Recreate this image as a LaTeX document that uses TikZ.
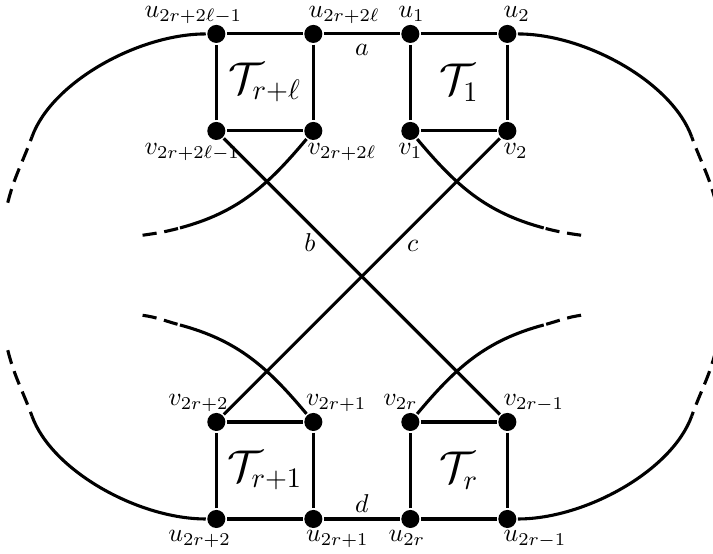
\documentclass[tikz,border=0pt]{standalone}
\usepackage{amsmath}
\tikzset{vtx/.style={circle,fill,inner sep=0pt,minimum size=7pt},
 lab/.style={anchor=base west,inner sep=0pt},
 tail/.style={dash pattern=on 5.5pt off 3pt}}

\begin{document}
\begin{tikzpicture}[x=.661cm,y=.661cm,very thick]
\useasboundingbox (-7.46,-5.72) rectangle (7.24,5.70);
% vertices of the four squares
\foreach \n/\x/\y in {ua/-3/5,ub/-1/5,uc/1/5,ud/3/5,va/-3/3,vb/-1/3,vc/1/3,vd/3/3,
 ve/-3/-3,vf/-1/-3,vg/1/-3,vh/3/-3,ue/-3/-5,uf/-1/-5,ug/1/-5,uh/3/-5}
 {\node[vtx] (\n) at (\x,\y) {};}
% free ends of the open curves
\foreach \n/\x/\y in {oa/-6.8/2.88,oa2/-7.3/1.52,od/6.8/2.88,od2/7.3/1.52,
 oe/-6.8/-2.88,oe2/-7.3/-1.52,oh/6.8/-2.88,oh2/7.3/-1.52,
 ib/-3.75/1/,ib2/-4.52/.85,ic/3.75/1,ic2/4.52/.85,
 if/-3.75/-1,if2/-4.52/-.8,ig/3.75/-1,ig2/4.52/-.8}
 {\coordinate (\n) at (\x,\y);}
% squares
\draw (ua)--(ub)--(vb)--(va)--(ua);
\draw (uc)--(ud)--(vd)--(vc)--(uc);
\draw (ve)--(vf)--(uf)--(ue)--(ve);
\draw (vg)--(vh)--(uh)--(ug)--(vg);
\draw (ub)-- node[below] {$a$} (uc);
\draw (uf)-- node[above,inner sep=2pt] {$d$} (ug);
\draw (va)--(vh);
\draw (vd)--(ve);
% outer curves
\draw (ua) .. controls +(-1.6,0) and +(.41,1.13) .. (oa);
\draw (ud) .. controls +(1.6,0) and +(-.41,1.13) .. (od);
\draw (ue) .. controls +(-1.6,0) and +(.41,-1.13) .. (oe);
\draw (uh) .. controls +(1.6,0) and +(-.41,-1.13) .. (oh);
\draw[tail] (oa2) to[out=76,in=250] (oa);
\draw[tail] (od2) to[out=104,in=-70] (od);
\draw[tail] (oe2) to[out=-76,in=110] (oe);
\draw[tail] (oh2) to[out=-104,in=70] (oh);
% inner curves
\draw (vb) to[out=230,in=15] (ib);
\draw (vc) to[out=-50,in=165] (ic);
\draw (vf) to[out=130,in=-15] (if);
\draw (vg) to[out=50,in=195] (ig);
\draw[tail] (ib2) to[out=8,in=195] (ib);
\draw[tail] (ic2) to[out=172,in=-15] (ic);
\draw[tail] (if2) to[out=-8,in=165] (if);
\draw[tail] (ig2) to[out=188,in=15] (ig);
% labels
\tikzset{every node/.append style={}}
\node[font=\fontsize{16}{19}\selectfont] (ta) at (-2,4) {$\mathcal{T}_{r+\ell}$};
\node[font=\fontsize{16}{19}\selectfont] (tb) at (2,4) {$\mathcal{T}_{1}$};
\node[font=\fontsize{16}{19}\selectfont] (tc) at (-2,-4) {$\mathcal{T}_{r+1}$};
\node[font=\fontsize{16}{19}\selectfont] (td) at (2,-4) {$\mathcal{T}_{r}$};
\node (lb) at (-1.07,.69) {$b$};
\node (lc) at (1.05,.63) {$c$};
\node[lab] (la) at (-4.51,5.33) {$u_{2r+2\ell-1}$};
\node[lab] (lub) at (-1.13,5.33) {$u_{2r+2\ell}$};
\node[lab] (luc) at (.72,5.33) {$u_1$};
\node[lab] (lud) at (2.89,5.33) {$u_2$};
\node[lab] (lva) at (-4.51,2.52) {$v_{2r+2\ell-1}$};
\node[lab] (lvb) at (-1.15,2.52) {$v_{2r+2\ell}$};
\node[lab] (lvc) at (.72,2.52) {$v_1$};
\node[lab] (lvd) at (2.89,2.52) {$v_2$};
\node[lab] (lve) at (-4.02,-2.66) {$v_{2r+2}$};
\node[lab] (lvf) at (-1.18,-2.66) {$v_{2r+1}$};
\node[lab] (lvg) at (.41,-2.66) {$v_{2r}$};
\node[lab] (lvh) at (2.89,-2.66) {$v_{2r-1}$};
\node[lab] (lue) at (-4.02,-5.46) {$u_{2r+2}$};
\node[lab] (luf) at (-1.18,-5.46) {$u_{2r+1}$};
\node[lab] (lug) at (.52,-5.46) {$u_{2r}$};
\node[lab] (luh) at (2.89,-5.46) {$u_{2r-1}$};
\end{tikzpicture}
\end{document}
